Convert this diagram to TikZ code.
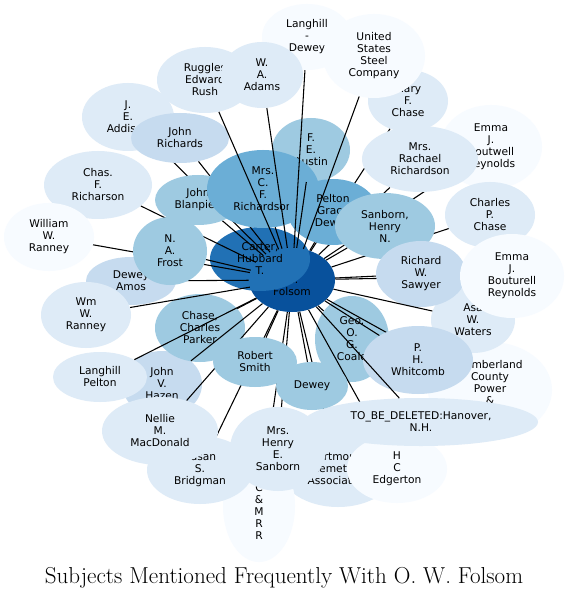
\documentclass[tikz,border=0pt]{standalone}
\usepackage{fontspec}
\usepackage{tikz}
\usetikzlibrary{shapes.geometric}

\newfontfamily\subjfont{DejaVu Sans}

\definecolor{blueI}{HTML}{F7FBFF}
\definecolor{blueII}{HTML}{DEEBF7}
\definecolor{blueIII}{HTML}{C6DBEF}
\definecolor{blueIV}{HTML}{9ECAE1}
\definecolor{blueV}{HTML}{6BAED6}
\definecolor{blueVII}{HTML}{2171B5}
\definecolor{blueVIII}{HTML}{08519C}

\pgfdeclarelayer{backrow}
\pgfdeclarelayer{lowlinks}
\pgfdeclarelayer{frontrow}
\pgfsetlayers{backrow,lowlinks,frontrow,main}

\tikzset{
  subj/.style={ellipse, inner sep=0pt, align=center, font=\subjfont\fontsize{8}{9}\selectfont},
  link/.style={draw=black, line width=0.8pt}
}

\begin{document}
\begin{tikzpicture}[x=0.75pt,y=-0.75pt]
\useasboundingbox (0,0) rectangle (569,598);

\begin{pgfonlayer}{backrow}
\fill[white] (0,0) rectangle (569,598);
% draw the centre and the node lying over it
\node[subj, fill=blueVIII, minimum width=64.5pt, minimum height=48pt] (folsom) at (292,280) {O.\\W.\\Folsom};
\node[subj, fill=blueVII, minimum width=75pt, minimum height=48pt] (carter) at (260,259) {Carter,\\Hubbard\\T.};

% draw the back row of subjects
\node[subj, fill=blueII, minimum width=81pt, minimum height=51pt] (chasfr) at (98,185) {Chas.\\F.\\Richarson};
\node[subj, fill=blueI, minimum width=67.5pt, minimum height=51pt] (wranney) at (49,237) {William\\W.\\Ranney};
\node[subj, fill=blueIII, minimum width=67.5pt, minimum height=36pt] (deweyamos) at (131,281) {Dewey\\Amos};
\node[subj, fill=blueII, minimum width=69pt, minimum height=51pt] (addison) at (128,117) {J.\\E.\\Addison};
\node[subj, fill=blueII, minimum width=72pt, minimum height=49.5pt] (ruggles) at (205,80) {Ruggles\\Edward\\Rush};
\node[subj, fill=blueI, minimum width=67.5pt, minimum height=49.5pt] (langhilldewey) at (307,37) {Langhill\\-\\Dewey};
\node[subj, fill=blueII, minimum width=60pt, minimum height=46.5pt] (marychase) at (408,101) {Mary\\F.\\Chase};
\node[subj, fill=blueI, minimum width=76.5pt, minimum height=63pt] (emmaboutwell) at (491,147) {Emma\\J.\\Boutwell\\Reynolds};
\node[subj, fill=blueII, minimum width=67.5pt, minimum height=49.5pt] (charleschase) at (490,215) {Charles\\P.\\Chase};
\node[subj, fill=blueI, minimum width=93pt, minimum height=72pt] (cumberland) at (490,390) {Cumberland\\County\\Power\\\&\\\strut};
\node[subj, fill=blueII, minimum width=63pt, minimum height=49.5pt] (asa) at (473,320) {Asa\\W.\\Waters};
\node[subj, fill=blueII, minimum width=87pt, minimum height=57pt] (dartmouth) at (338,469) {Dartmouth\\Cemetery\\Association};
\node[subj, fill=blueI, minimum width=75pt, minimum height=51pt] (edgerton) at (397,469) {H\\C\\Edgerton};
\node[subj, fill=blueI, minimum width=54pt, minimum height=84pt] (bcmrr) at (259,506) {B\\C\\\&\\M\\R\\R};
\node[subj, fill=blueII, minimum width=79.5pt, minimum height=51pt] (susan) at (200,470) {Susan\\S.\\Bridgman};
\node[subj, fill=blueIII, minimum width=60pt, minimum height=49.5pt] (hazen) at (162,384) {John\\V.\\Hazen};
\node[subj, fill=blueIV, minimum width=58.5pt, minimum height=48pt] (austin) at (311,150) {F.\\E.\\Austin};
\node[subj, fill=blueIV, minimum width=55.5pt, minimum height=64.5pt] (coale) at (352,339) {Geo.\\O.\\G.\\Coale};
\node[subj, fill=blueIV, minimum width=67.5pt, minimum height=51pt] (parker) at (200,328) {Chase,\\Charles\\Parker};
\end{pgfonlayer}

\begin{pgfonlayer}{frontrow}
% draw the front row of subjects
\node[subj, fill=blueIV, minimum width=55.5pt, minimum height=51pt] (frost) at (170,251) {N.\\A.\\Frost};
\node[subj, fill=blueII, minimum width=67.5pt, minimum height=49.5pt] (wmranney) at (86,315) {Wm\\W.\\Ranney};
\node[subj, fill=blueIII, minimum width=73.5pt, minimum height=37.5pt] (jrichards) at (180,138) {John\\Richards};
\node[subj, fill=blueIV, minimum width=64.5pt, minimum height=37.5pt] (blanpied) at (198,200) {John\\Blanpied};
\node[subj, fill=blueV, minimum width=84pt, minimum height=58.5pt] (mrscfr) at (263,189) {Mrs.\\C.\\F.\\Richardson};
\node[subj, fill=blueII, minimum width=87pt, minimum height=49.5pt] (rachael) at (420,159) {Mrs.\\Rachael\\Richardson};
\node[subj, fill=blueV, minimum width=67.5pt, minimum height=49.5pt] (pelton) at (333,212) {Pelton\\Grace\\Dewey};
\node[subj, fill=blueIV, minimum width=75pt, minimum height=49.5pt] (sanbornhn) at (385,226) {Sanborn,\\Henry\\N.};
\node[subj, fill=blueIII, minimum width=67.5pt, minimum height=49.5pt] (sawyer) at (421,274) {Richard\\W.\\Sawyer};
\node[subj, fill=blueI, minimum width=78pt, minimum height=63pt] (emmabouturell) at (512,276) {Emma\\J.\\Bouturell\\Reynolds};
\node[subj, fill=blueIII, minimum width=82.5pt, minimum height=51pt] (whitcomb) at (418,360) {P.\\H.\\Whitcomb};
\node[subj, fill=blueII, minimum width=175.5pt, minimum height=36pt] (tbd) at (421,422) {TO\_BE\_DELETED:Hanover,\\N.H.};
\node[subj, fill=blueII, minimum width=72pt, minimum height=63pt] (mrshenry) at (278,449) {Mrs.\\Henry\\E.\\Sanborn};
\node[subj, fill=blueII, minimum width=87pt, minimum height=51pt] (nellie) at (160,431) {Nellie\\M.\\MacDonald};
\node[subj, fill=blueII, minimum width=70.5pt, minimum height=37.5pt] (langhillpelton) at (100,377) {Langhill\\Pelton};
\node[subj, fill=blueIV, minimum width=63pt, minimum height=37.5pt] (smith) at (255,362) {Robert\\Smith};
\node[subj, fill=blueIV, minimum width=54pt, minimum height=36pt] (dewey) at (312,386) {Dewey};
\node[subj, fill=blueII, minimum width=61.5pt, minimum height=49.5pt] (adams) at (262,75) {W.\\A.\\Adams};
\node[subj, fill=blueI, minimum width=76.5pt, minimum height=63pt] (ussc) at (374,56) {United\\States\\Steel\\Company};
\end{pgfonlayer}

\begin{pgfonlayer}{lowlinks}
% links that run under the front row
\draw[link] (folsom) -- (chasfr);
\draw[link] (folsom) -- (wranney);
\draw[link] (folsom) -- (deweyamos);
\draw[link] (folsom) -- (addison);
\draw[link] (folsom) -- (marychase);
\draw[link] (folsom) -- (emmaboutwell);
\draw[link] (folsom) -- (rachael);
\draw[link] (folsom) -- (charleschase);
\draw[link] (folsom) -- (cumberland);
\draw[link] (folsom) -- (bcmrr);
\draw[link] (folsom) -- (mrshenry);
\draw[link] (folsom) -- (edgerton);
\draw[link] (folsom) -- (dartmouth);
\draw[link] (folsom) -- (nellie);
\draw[link] (folsom) -- (susan);
\draw[link] (folsom) -- (jrichards);
\draw[link] (folsom) -- (emmabouturell);
\end{pgfonlayer}

% links drawn over everything
\draw[link] (folsom) -- (ruggles);
\draw[link] (folsom) -- (adams);
\draw[link] (folsom) -- (langhilldewey);
\draw[link] (folsom) -- (austin);
\draw[link] (folsom) -- (ussc);
\draw[link] (folsom) -- (whitcomb);
\draw[link] (folsom) -- (tbd);
\draw[link] (folsom) -- (langhillpelton);
\draw[link] (folsom) -- (hazen);
\draw[link] (folsom) -- (blanpied);
\draw[link] (folsom) -- (frost);
\draw[link] (folsom) -- (wmranney);
\draw[link] (folsom) -- (sanbornhn);
\draw[link] (folsom) -- (sawyer);
\draw[link] (folsom) -- (asa);
\draw[link] (folsom) -- (coale);
\draw[link] (folsom) -- (dewey);
\draw[link] (folsom) -- (smith);
\draw[link] (folsom) -- (parker);
\draw[link] (folsom) -- (pelton);
\draw[link] (folsom) -- (mrscfr);

% title
\node (title) at (284,578) {\fontsize{17.3}{20}\selectfont Subjects Mentioned Frequently With O. W. Folsom};
\end{tikzpicture}
\end{document}
